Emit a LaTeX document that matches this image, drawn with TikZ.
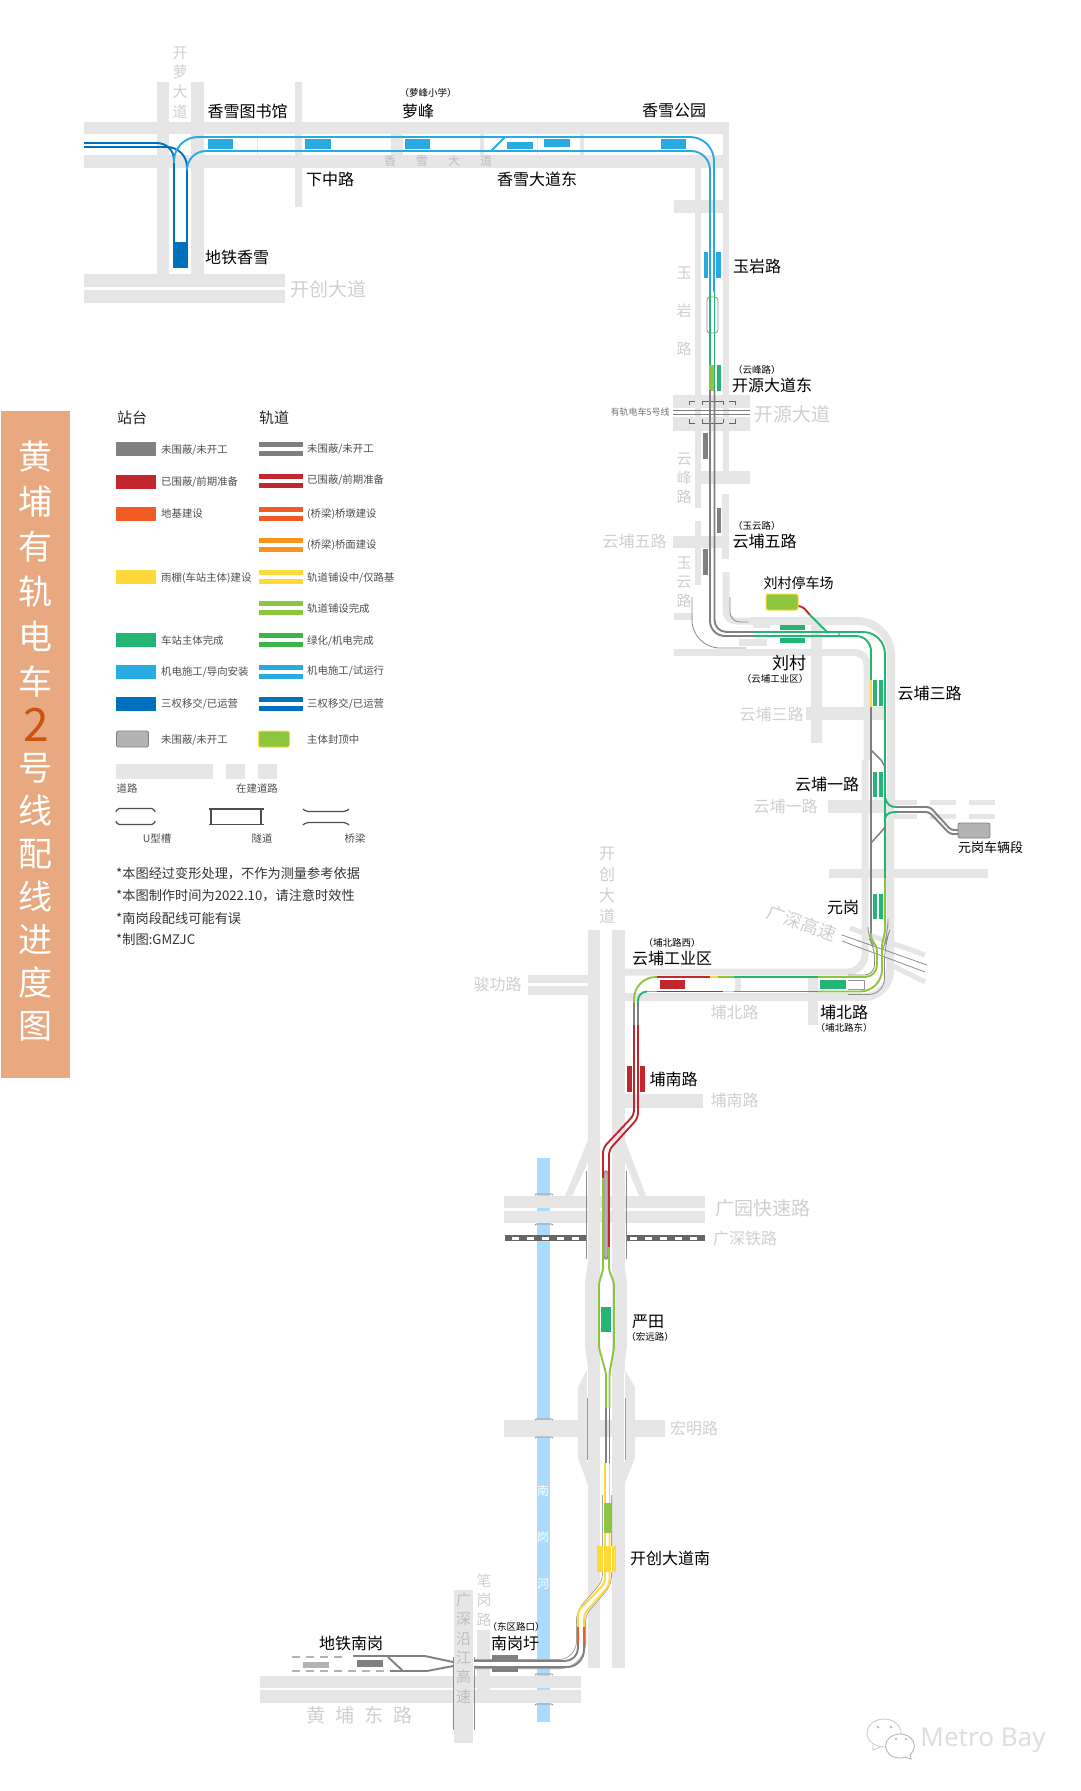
\documentclass[tikz,border=0pt]{standalone}
\usepackage{fontspec}
\setmainfont{Noto Sans CJK SC}
\newfontfamily\wmfont{Noto Sans}
\usetikzlibrary{shapes.geometric}
\definecolor{roadc}{HTML}{E6E6E6}
\definecolor{riverc}{HTML}{ABDCFF}
\definecolor{labc}{HTML}{CFCFCF}
\definecolor{onroad}{HTML}{BDBDBD}
\definecolor{grayc}{HTML}{808080}
\definecolor{redc}{HTML}{C1272D}
\definecolor{orangec}{HTML}{F15A24}
\definecolor{amberc}{HTML}{F7931E}
\definecolor{yellowc}{HTML}{FFD83A}
\definecolor{limec}{HTML}{8CC63F}
\definecolor{greenc}{HTML}{22B573}
\definecolor{mgreenc}{HTML}{39B54A}
\definecolor{lbluec}{HTML}{29ABE2}
\definecolor{dbluec}{HTML}{0071BC}
\definecolor{depotc}{HTML}{B3B3B3}
\definecolor{titlec}{HTML}{E8A980}
\definecolor{twoc}{HTML}{CC5210}
\definecolor{legtext}{HTML}{4D4D4D}
\tikzset{
  trk/.style={line width=1.9pt},
  thinl/.style={line width=.8pt,draw=black!45},
  lg/.style={line width=1.2pt,draw=legtext},
}
\newcounter{lbn}
\newcommand\rd[4]{\fill[roadc] (#1,#2) rectangle (#3,#4);}
\newcommand\st[5]{\fill[#1] (#2,#3) rectangle (#4,#5);}
\newcommand\T[5][black]{\stepcounter{lbn}\node[inner sep=0pt,text=#1,font=\fontsize{#4}{#4}\selectfont] (t\thelbn) at (#2,#3) {#5};}
\newcommand\TL[5][legtext]{\stepcounter{lbn}\node[inner sep=0pt,anchor=west,text=#1,font=\fontsize{#4}{#4}\selectfont] (t\thelbn) at (#2,#3) {#5};}
\newcommand\VT[6][labc]{\stepcounter{lbn}\node[inner sep=0pt,align=center,text=#1,font=\fontsize{#4}{#5}\selectfont] (t\thelbn) at (#2,#3) {#6};}
\newcommand\legbar[2]{\fill[#1] (259,#2-7) rectangle (303,#2-2.2); \fill[#1] (259,#2+2.2) rectangle (303,#2+7);}
\newcommand\legst[2]{\fill[#1] (116,#2-7) rectangle (156,#2+7);}
\newcommand\rvb[1]{\draw[line width=.9pt,draw=black!45] (535,#1+1)--(536.5,#1)--(551.5,#1)--(553,#1+1);}
\begin{document}
\begin{tikzpicture}[x=1pt,y=-1pt]
\useasboundingbox (0,0) rectangle (1080,1791);
% river
\fill[riverc] (537,1158) rectangle (550,1722);
% roads: north
\rd{84}{122}{729}{134}\rd{84}{155}{729}{168}
\rd{157}{82}{169}{274}\rd{191}{82}{204}{274}
\rd{84}{274}{285}{287}\rd{84}{290}{285}{303}
\rd{295}{82}{302}{207}
\rd{391}{134}{403}{155}\rd{480}{134}{484}{155}\rd{580}{134}{584}{155}
\rd{257}{134}{258}{155}\rd{537}{134}{538}{155}
\rd{695}{168}{701}{508}\rd{723}{134}{729}{484}
\rd{674}{200}{723}{213}
\rd{673}{395}{750}{408}\rd{673}{417}{750}{431}
\rd{701}{471}{750}{484}
\rd{722}{494}{729}{559}\rd{695}{521}{701}{585}
\rd{673}{536}{723}{548}\rd{674}{613}{693}{620}
\rd{739}{639}{767}{646}\rd{753}{623}{770}{628}
\draw[line width=7pt,draw=roadc,rounded corners=10pt] (726,572)--(726,621)--(760,621);
\draw[line width=8pt,draw=roadc,rounded corners=34pt] (750,621)--(891,621)--(891,800);
\draw[line width=8pt,draw=roadc,rounded corners=26pt] (890,800)--(890,997)--(625,997);
\draw[line width=7pt,draw=roadc,rounded corners=12pt] (674,652.5)--(867,652.5)--(867,760);
\draw[line width=7pt,draw=roadc,rounded corners=18pt] (865,760)--(865,972)--(625,972);
\rd{811}{625}{822}{743}\rd{806}{707}{885}{720}
\rd{828}{800}{893}{813}\rd{893}{800}{917}{805}\rd{893}{814}{917}{819}
\rd{930}{800}{956}{805}\rd{930}{814}{956}{819}\rd{969}{800}{995}{805}\rd{969}{814}{995}{819}
\rd{829}{869}{988}{878}
\draw[line width=5pt,draw=roadc] (850,928)--(925,955);
\draw[line width=5pt,draw=roadc] (887,963)--(925,982);
\rd{735}{977}{741}{992}\rd{808}{977}{818}{1025}
% roads: south
\rd{588}{930}{600}{1668}\rd{612}{930}{624.5}{1668}
\rd{528}{975}{588}{983}\rd{528}{986}{588}{995}
\rd{625}{1094}{703}{1108}
\rd{504}{1196}{705}{1208}\rd{504}{1211}{705}{1223}
\fill[roadc] (565,1196)--(588,1140)--(588,1162)--(572,1196)--cycle;
\fill[roadc] (646,1196)--(625,1140)--(625,1162)--(639,1196)--cycle;
\fill[roadc] (588,1260)--(585,1283)--(585,1345)--(588,1368)--cycle;
\fill[roadc] (624,1260)--(627,1283)--(627,1345)--(624,1368)--cycle;
\rd{504}{1420}{665}{1437}
\fill[roadc] (587,1370)--(578,1387)--(578,1458)--(588,1485)--cycle;
\fill[roadc] (625,1370)--(635,1387)--(635,1458)--(624,1485)--cycle;
\draw[line width=.8pt,draw=white] (587.3,1372)--(587.3,1462);
\draw[line width=.8pt,draw=white] (624.8,1372)--(624.8,1462);
\rd{260}{1676}{581}{1688}\rd{260}{1690}{581}{1703}
\rd{477}{1630}{490}{1690}\rd{454}{1590}{473}{1743}
% railway
\fill[black!60] (505,1235) rectangle (586,1241);\fill[black!60] (627,1235) rectangle (705,1241);
\draw[line width=3pt,draw=white,dash pattern=on 7pt off 8pt] (512,1238)--(586,1238);
\draw[line width=3pt,draw=white,dash pattern=on 7pt off 8pt] (630,1238)--(705,1238);
\fill[black!60] (605,1235) rectangle (607,1241);
% river brackets
\rvb{1194}\rvb{1224}\rvb{1419}\rvb{1437}\rvb{1660}\rvb{1674}\rvb{1704}
% thin structure lines
\draw[thinl] (586,1171)--(586,1259);\draw[thinl] (626,1171)--(626,1259);
\draw[line width=.5pt,draw=black!40] (587,1398)--(587,1460);\draw[line width=.5pt,draw=black!40] (625,1398)--(625,1460);
\draw[thinl] (453,1657)--(453,1730);\draw[thinl] (474,1657)--(474,1730);
\draw[thinl,rounded corners=3pt,fill=depotc,draw=black!50] (604,1171) rectangle (608,1259);
\draw[thinl,rounded corners=3pt] (707,297) rectangle (718,333);
\draw[thinl,rounded corners=10pt] (730,597)--(730,622)--(748,622);
\draw[thinl,rounded corners=28pt] (692,597)--(692,648)--(746,648);
\draw[thinl] (842,935)--(927,965);\draw[thinl] (842,941)--(925,972);
\draw[thinl,rounded corners=10pt] (848,975)--(874.5,975)--(874.5,947)--(868,937)--(868,927);
\draw[thinl,rounded corners=16pt] (848,994.5)--(884.5,994.5)--(884.5,945)--(888,935)--(888,927);
\draw[line width=.7pt,draw=black!40] (848,980)--(864,980)--(864,989)--(848,989);
% Kaiyuan crossing
\draw[line width=.9pt,draw=black!60] (689,405)--(689,401)--(695,401) (702,401)--(723,401) (729,401)--(735,401)--(735,405);
\draw[line width=.9pt,draw=black!60] (689,419)--(689,423)--(695,423) (702,423)--(723,423) (729,423)--(735,423)--(735,419);
\draw[line width=.9pt,draw=black!60] (702,401)--(702,405) (723,401)--(723,405) (702,423)--(702,419) (723,423)--(723,419);
\draw[line width=1pt,draw=grayc] (673,410)--(750,410) (673,414)--(750,414);
% casing south
\draw[line width=10pt,draw=black!40,rounded corners=8pt] (607,1495)--(607,1583)--(581,1613)--(581,1651)--(568,1664)--(474,1664);
\draw[line width=8.4pt,draw=white,rounded corners=8pt] (607,1495)--(607,1583)--(581,1613)--(581,1651)--(568,1664)--(474,1664);
% stations drawn beneath tracks
\st{yellowc}{597}{1546}{616}{1572}
\draw[line width=.8pt,draw=white] (603,1546)--(603,1572) (611.5,1546)--(611.5,1572);
% tracks north
\draw[trk,draw=dbluec,rounded corners=17pt] (84,143)--(174,143)--(174,267);
\draw[trk,draw=dbluec,rounded corners=20pt] (84,147)--(187,147)--(187,267);
\draw[trk,draw=lbluec,rounded corners=24pt] (174,163)--(174,137)--(714,137)--(714,292);
\draw[trk,draw=lbluec,rounded corners=19pt] (187,167)--(187,151)--(710,151)--(710,292);
\draw[trk,draw=lbluec] (505,137)--(491,151);
\draw[trk,draw=greenc] (710,292)--(710,365);\draw[trk,draw=greenc] (714.5,292)--(714.5,391);
\fill[limec] (709,365) rectangle (714,390.5);
% tracks central
\draw[trk,draw=grayc,rounded corners=12pt] (714.5,390)--(714.5,632)--(753,632);
\draw[trk,draw=grayc,rounded corners=15pt] (710,390)--(710,636)--(753,636);
\draw[trk,draw=greenc,rounded corners=22pt] (753,632)--(885,632)--(885,878);
\draw[trk,draw=greenc,rounded corners=15pt] (753,636)--(871,636)--(871,680);
\draw[line width=1pt,draw=greenc] (838,632)--(840,636);
\draw[trk,draw=yellowc] (871,680)--(871,707);
\draw[trk,draw=grayc] (871,707)--(871,933);
\draw[line width=2.4pt,draw=grayc] (871,866)--(871,933);
\draw[line width=1.5pt,draw=grayc] (871,750)--(881,760)--(885,767);
\draw[line width=1.5pt,draw=grayc] (871,843)--(881,832)--(885,827);
\draw[trk,draw=greenc] (885,797) .. controls (887,805) and (890,807) .. (897,807);
\draw[trk,draw=greenc] (885,818) .. controls (887,813) and (890,812) .. (897,812);
\draw[trk,draw=grayc,rounded corners=3pt] (897,807)--(930,807)--(951,830)--(958,830);
\draw[trk,draw=grayc,rounded corners=3pt] (897,812)--(929,812)--(950,834)--(958,834);
\draw[trk,draw=redc,rounded corners=2pt] (798,606)--(803,607)--(810,615);
\draw[trk,draw=greenc] (810,615)--(827,632);
% lime at Yuangang
\draw[trk,draw=limec,rounded corners=3pt] (871,933)--(871,938)--(877,948)--(877,960);
\draw[trk,draw=limec,rounded corners=12pt] (877,950)--(877,977)--(818,977);
\draw[trk,draw=limec,rounded corners=3pt] (885,878)--(885,932)--(882,944)--(882,960);
\draw[trk,draw=limec,rounded corners=22pt] (882,945)--(882,991.5)--(818,991.5);
% Bubei road
\draw[trk,draw=greenc] (734,977)--(818,977);
\draw[trk,draw=limec] (718,977)--(734,977);
\draw[trk,draw=yellowc] (710,977)--(718,977);
\draw[trk,draw=redc] (657,977)--(710,977);
\draw[trk,draw=limec,rounded corners=22pt] (634,1003)--(634,977)--(657,977);
\draw[trk,draw=greenc] (734,991.5)--(818,991.5);
\draw[trk,draw=yellowc] (723,991.5)--(734,991.5);
\draw[trk,draw=redc] (657,991.5)--(723,991.5);
\draw[trk,draw=limec] (647,991.5)--(657,991.5);
\draw[trk,draw=greenc,rounded corners=9pt] (638,1003)--(638,991.5)--(647,991.5);
\draw[trk,draw=grayc] (634,1003)--(634,1025);\draw[trk,draw=grayc] (638,1003)--(638,1025);
% south
\draw[trk,draw=redc,rounded corners=5pt] (634,1025)--(634,1115)--(603,1148)--(603,1178);
\draw[trk,draw=redc,rounded corners=5pt] (638,1025)--(638,1118)--(609,1150)--(609,1247);
\draw[trk,draw=limec,rounded corners=3pt] (603,1178)--(603,1270)--(599,1283)--(599,1348)--(606,1373)--(606,1408);
\draw[trk,draw=limec,rounded corners=3pt] (609,1247)--(609,1270)--(614,1283)--(614,1348)--(609.5,1373)--(609.5,1408);
\draw[trk,draw=grayc] (606,1408)--(606,1463);\draw[trk,draw=grayc] (609.5,1408)--(609.5,1463);
\draw[trk,draw=yellowc] (605,1463)--(605,1503);\draw[trk,draw=yellowc] (609.5,1463)--(609.5,1503);
\fill[limec] (604,1503) rectangle (610.5,1533);
\draw[trk,draw=yellowc,rounded corners=5pt] (605,1533)--(605,1583)--(578,1611)--(578,1627);
\draw[trk,draw=yellowc,rounded corners=5pt] (609.5,1533)--(609.5,1585)--(584,1614)--(584,1627);
\draw[trk,draw=orangec] (578,1627)--(578,1643);\draw[trk,draw=orangec] (584,1627)--(584,1643);
\draw[trk,draw=grayc,rounded corners=13pt] (578,1643)--(578,1661)--(474,1661);
\draw[trk,draw=grayc,rounded corners=17pt] (584,1643)--(584,1667)--(474,1667);
\draw[line width=1.2pt,draw=depotc,dash pattern=on 8pt off 6pt] (292,1657)--(347,1657);
\draw[line width=1.2pt,draw=depotc,dash pattern=on 8pt off 6pt] (292,1671)--(390,1671);
\draw[trk,draw=grayc] (453,1662)--(425,1656)--(353,1656);
\draw[trk,draw=grayc] (453,1666)--(427,1671)--(390,1671);
\draw[trk,draw=grayc] (388,1657)--(403,1671);
% stations
\st{lbluec}{208}{139}{233}{149}\st{lbluec}{305}{139}{331}{149}\st{lbluec}{405}{139}{430}{149}
\st{lbluec}{507}{142}{533}{149}\st{lbluec}{544}{139}{570}{147}\st{lbluec}{661}{139}{686}{149}
\st{dbluec}{175}{242}{186}{267}
\draw[line width=1pt,draw=dbluec] (173,267.5)--(188,267.5);
\st{lbluec}{703.5}{252}{708}{278}\st{lbluec}{716}{252}{721}{278}
\st{greenc}{716.5}{365}{721}{391}
\st{grayc}{703}{433}{708}{459}\st{grayc}{717}{508}{721}{533}\st{grayc}{703}{549}{708}{575}
\st{greenc}{780}{625}{805}{630}\st{greenc}{780}{638}{805}{643}
\st{greenc}{873}{680}{877}{706}\st{greenc}{879}{680}{883}{706}
\st{greenc}{873}{772}{877}{797}\st{greenc}{879}{772}{883}{797}
\st{greenc}{873}{894}{877}{919}\st{greenc}{879}{894}{883}{919}
\st{greenc}{820}{980}{846}{989}
\st{redc}{660}{980}{685}{989}
\st{redc}{627}{1066}{632}{1092}\st{redc}{640}{1066}{645}{1092}
\st{greenc}{601}{1307}{611}{1332}
\st{grayc}{357}{1660}{383}{1667}\st{depotc}{303}{1662}{329}{1668}
\st{grayc}{492}{1655}{518}{1660}\st{grayc}{492}{1668}{518}{1672}
\node[draw=yellowc,fill=limec,line width=1pt,rounded corners=2pt,minimum width=32pt,minimum height=16pt,inner sep=0pt] (parking) at (782,602) {};
\node[draw=grayc,fill=depotc,line width=.8pt,rounded corners=2pt,minimum width=32pt,minimum height=15pt,inner sep=0pt] (depot) at (974,830.5) {};
% black labels
\T{247.5}{111}{16}{香雪图书馆}
\T{418}{111}{16}{萝峰}\T{428}{93}{9.5}{（萝峰小学）}
\T{674}{110}{16}{香雪公园}\T{330}{179}{16}{下中路}\T{537}{179}{16}{香雪大道东}\T{237}{257}{16}{地铁香雪}
\TL[black]{733}{266}{16}{玉岩路}
\TL[black]{733}{370}{9.5}{（云峰路）}\T{772}{385}{16}{开源大道东}
\TL[black]{733}{526}{9.5}{（玉云路）}\T{764.5}{541}{16}{云埔五路}
\T{798.5}{583}{14}{刘村停车场}
\T{789}{663}{17}{刘村}\T{775}{679}{9.5}{（云埔工业区）}
\T{929.5}{693}{16}{云埔三路}\T{827}{784}{16}{云埔一路}\T{990.5}{848}{13}{元岗车辆段}
\T{843}{907}{16}{元岗}
\T{672}{958}{16}{云埔工业区}\T{672}{943}{9.5}{（埔北路西）}
\T{844}{1012}{16}{埔北路}\T{844}{1028}{9.5}{（埔北路东）}
\T{673.5}{1079}{16}{埔南路}
\T{648}{1322}{16}{严田}\T{650}{1337}{9.5}{（宏远路）}
\T{670}{1558}{16}{开创大道南}
\T{351}{1643}{16}{地铁南岗}\T{515}{1643}{16}{南岗圩}\T{516}{1627}{9.5}{（东区路口）}
% grey labels
\T[labc]{328}{289}{19}{开创大道}
\T[onroad]{438}{161}{12}{香\hspace{20pt}雪\hspace{20pt}大\hspace{20pt}道}
\VT{180}{82.5}{15}{19.7}{开\\萝\\大\\道}
\VT{684}{311}{15}{38}{玉\\岩\\路}
\VT{684}{478}{15}{19}{云\\峰\\路}
\VT{684}{582}{15}{19}{玉\\云\\路}
\T[black!55]{640}{412}{9}{有轨电车5号线}
\T[labc]{792}{414}{19}{开源大道}
\T[labc]{634.5}{541}{16}{云埔五路}
\T[labc]{771.5}{714}{16}{云埔三路}
\T[labc]{785.5}{806}{16}{云埔一路}
\node[inner sep=0pt,text=labc,rotate=-20,font=\fontsize{18}{18}\selectfont] (gshs) at (802,923) {广深高速};
\T[labc]{734.5}{1012}{16}{埔北路}\T[labc]{734.5}{1100}{16}{埔南路}
\T[labc]{497.5}{984}{16}{骏功路}
\VT{607}{885}{16}{21}{开\\创\\大\\道}
\T[labc]{763}{1208}{19}{广园快速路}
\T[labc]{745}{1238}{16}{广深铁路}
\T[labc]{694}{1428}{16}{宏明路}
\VT[white]{543}{1537}{12}{46.5}{南\\岗\\河}
\VT{484}{1600}{15}{19.5}{笔\\岗\\路}
\VT[onroad]{463.5}{1648}{15}{19.4}{广\\深\\沿\\江\\高\\速}
\T[labc]{359.5}{1715}{19}{黄\hspace{10pt}埔\hspace{10pt}东\hspace{10pt}路}
% title
\fill[titlec] (1,411) rectangle (70,1078);
\VT[white]{36}{569}{34}{45}{黄\\埔\\有\\轨\\电\\车}
\T[twoc]{36}{725}{46}{2}
\VT[white]{36}{897}{34}{43}{号\\线\\配\\线\\进\\度\\图}
% legend
\T[black!85]{132}{418}{15}{站台}\T[black!85]{274}{418}{15}{轨道}
\legst{grayc}{449}\legst{redc}{482}\legst{orangec}{514}\legst{yellowc}{577}\legst{greenc}{640}\legst{lbluec}{672}\legst{dbluec}{704}
\TL{161}{450}{10.4}{未围蔽/未开工}
\TL{161}{482}{10.4}{已围蔽/前期准备}
\TL{161}{514}{10.4}{地基建设}
\TL{161}{578}{10.4}{雨棚(车站主体)建设}
\TL{161}{641}{10.4}{车站主体完成}
\TL{161}{672}{10.4}{机电施工/导向安装}
\TL{161}{704}{10.4}{三权移交/已运营}
\legbar{grayc}{449}\legbar{redc}{481}\legbar{orangec}{514}\legbar{amberc}{545}\legbar{yellowc}{577}\legbar{limec}{608}\legbar{mgreenc}{640}\legbar{lbluec}{672}\legbar{dbluec}{704}
\TL{307}{449}{10.4}{未围蔽/未开工}
\TL{307}{480}{10.4}{已围蔽/前期准备}
\TL{307}{514}{10.4}{(桥梁)桥墩建设}
\TL{307}{545}{10.4}{(桥梁)桥面建设}
\TL{307}{578}{10.4}{轨道铺设中/仅路基}
\TL{307}{609}{10.4}{轨道铺设完成}
\TL{307}{641}{10.4}{绿化/机电完成}
\TL{307}{671}{10.4}{机电施工/试运行}
\TL{307}{704}{10.4}{三权移交/已运营}
\node[draw=grayc,fill=depotc,line width=.8pt,rounded corners=2pt,minimum width=32pt,minimum height=16pt,inner sep=0pt] (legdepot) at (132.5,739) {};
\TL{161}{740}{10.4}{未围蔽/未开工}
\node[draw=yellowc,fill=limec,line width=1pt,rounded corners=2pt,minimum width=31pt,minimum height=16pt,inner sep=0pt] (legpark) at (274,739) {};
\TL{307}{740}{10.4}{主体封顶中}
\rd{116}{764}{213}{779}\rd{226}{764}{245}{779}\rd{258}{764}{277}{779}
\T[legtext]{127}{789}{10.4}{道路}\T[legtext]{257}{789}{10.4}{在建道路}
\draw[lg,rounded corners=2pt] (116,812)--(117,808.5)--(154,808.5)--(155,812);
\draw[lg,rounded corners=2pt] (116,821)--(117,824.5)--(154,824.5)--(155,821);
\draw[lg] (209,809)--(264,809) (209,824.5)--(264,824.5) (211,809)--(211,824.5) (261,809)--(261,824.5);
\draw[lg,rounded corners=2pt] (303,809)--(306,811.5)--(346,811.5)--(349,809);
\draw[lg,rounded corners=2pt] (303,825)--(306,822.5)--(346,822.5)--(349,825);
\T[legtext]{157}{839}{10.4}{U型槽}\T[legtext]{262}{839}{10.4}{隧道}\T[legtext]{355}{839}{10.4}{桥梁}
\TL[black!80]{116}{874}{13.2}{*本图经过变形处理，不作为测量参考依据}
\TL[black!80]{116}{896}{13.2}{*本图制作时间为2022.10，请注意时效性}
\TL[black!80]{116}{918}{13.2}{*南岗段配线可能有误}
\TL[black!80]{116}{939}{13.2}{*制图:GMZJC}
% watermark
\draw[line width=.8pt,draw=black!22,fill=white] (884,1733) ellipse [x radius=17,y radius=14];
\draw[line width=.8pt,draw=black!22,fill=white] (873,1745)--(873,1750)--(880,1747);
\fill[black!25] (878,1727) circle (1.5) (891,1727) circle (1.5);
\draw[line width=.8pt,draw=black!30,fill=white] (900,1746) ellipse [x radius=14.5,y radius=12];
\draw[line width=.8pt,draw=black!30,fill=white] (905,1757)--(911,1759)--(910,1754);
\fill[black!25] (896,1739) circle (1.4) (906,1739) circle (1.4);
\stepcounter{lbn}\node[inner sep=0pt,text=black!13,font=\wmfont\fontsize{26}{26}\selectfont] (wm) at (983,1740) {Metro Bay};
\end{tikzpicture}
\end{document}
